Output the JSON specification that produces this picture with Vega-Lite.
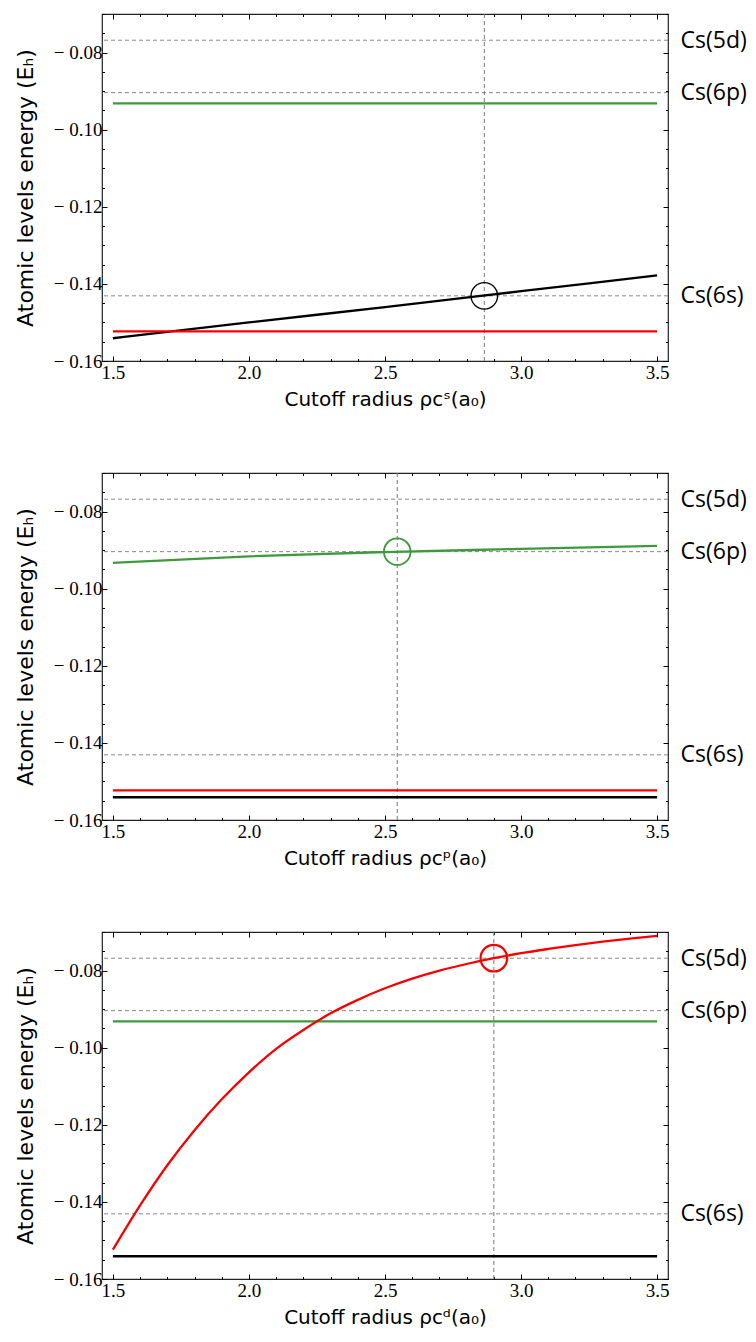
{
  "$schema": "https://vega.github.io/schema/vega-lite/v6.json",
  "padding": {"left": 13, "top": 12, "right": 0, "bottom": 0},
  "spacing": 61,
  "background": "white",
  "config": {
    "view": {"stroke": "#222", "strokeWidth": 1.2},
    "axis": {"grid": false, "domain": false, "labelColor": "#000", "tickColor": "#000", "titleColor": "#000", "tickWidth": 1, "titleFontWeight": "normal"},
    "line": {"strokeWidth": 2.3, "interpolate": "monotone"}
  },
  "datasets": {
    "levels": [
      {"E": -0.0768, "level": "Cs(5d)"},
      {"E": -0.0904, "level": "Cs(6p)"},
      {"E": -0.1431, "level": "Cs(6s)"}
    ],
    "cut1": [{"r": 2.865, "E": -0.1431, "orbital": "s"}],
    "cut2": [{"r": 2.545, "E": -0.0904, "orbital": "p"}],
    "cut3": [{"r": 2.9, "E": -0.0768, "orbital": "d"}],
    "lines1": [
      {"r": 1.5, "E": -0.1541, "orbital": "s"},
      {"r": 2.0, "E": -0.1500, "orbital": "s"},
      {"r": 2.5, "E": -0.1460, "orbital": "s"},
      {"r": 3.0, "E": -0.1419, "orbital": "s"},
      {"r": 3.5, "E": -0.1378, "orbital": "s"},
      {"r": 1.5, "E": -0.0932, "orbital": "p"},
      {"r": 3.5, "E": -0.0932, "orbital": "p"},
      {"r": 1.5, "E": -0.1523, "orbital": "d"},
      {"r": 3.5, "E": -0.1523, "orbital": "d"}
    ],
    "lines2": [
      {"r": 1.5, "E": -0.1541, "orbital": "s"},
      {"r": 3.5, "E": -0.1541, "orbital": "s"},
      {"r": 1.5, "E": -0.0933, "orbital": "p"},
      {"r": 2.0, "E": -0.0916, "orbital": "p"},
      {"r": 2.5, "E": -0.0905, "orbital": "p"},
      {"r": 3.0, "E": -0.0897, "orbital": "p"},
      {"r": 3.5, "E": -0.0889, "orbital": "p"},
      {"r": 1.5, "E": -0.1523, "orbital": "d"},
      {"r": 3.5, "E": -0.1523, "orbital": "d"}
    ],
    "lines3": [
      {"r": 1.5, "E": -0.1541, "orbital": "s"},
      {"r": 3.5, "E": -0.1541, "orbital": "s"},
      {"r": 1.5, "E": -0.0932, "orbital": "p"},
      {"r": 3.5, "E": -0.0932, "orbital": "p"},
      {"r": 1.5, "E": -0.1524, "orbital": "d"},
      {"r": 1.6, "E": -0.1409, "orbital": "d"},
      {"r": 1.7, "E": -0.1305, "orbital": "d"},
      {"r": 1.8, "E": -0.1214, "orbital": "d"},
      {"r": 1.9, "E": -0.1134, "orbital": "d"},
      {"r": 2.0, "E": -0.1064, "orbital": "d"},
      {"r": 2.1, "E": -0.1003, "orbital": "d"},
      {"r": 2.2, "E": -0.0954, "orbital": "d"},
      {"r": 2.3, "E": -0.0911, "orbital": "d"},
      {"r": 2.4, "E": -0.0876, "orbital": "d"},
      {"r": 2.5, "E": -0.0846, "orbital": "d"},
      {"r": 2.6, "E": -0.0821, "orbital": "d"},
      {"r": 2.7, "E": -0.0800, "orbital": "d"},
      {"r": 2.8, "E": -0.0783, "orbital": "d"},
      {"r": 2.9, "E": -0.0768, "orbital": "d"},
      {"r": 3.0, "E": -0.0755, "orbital": "d"},
      {"r": 3.1, "E": -0.0744, "orbital": "d"},
      {"r": 3.2, "E": -0.0734, "orbital": "d"},
      {"r": 3.3, "E": -0.0725, "orbital": "d"},
      {"r": 3.4, "E": -0.0717, "orbital": "d"},
      {"r": 3.5, "E": -0.0710, "orbital": "d"}
    ]
  },
  "vconcat": [
    {
      "width": 566, "height": 347,
      "resolve": {"axis": {"x": "independent", "y": "independent"}},
      "layer": [
        {"data": {"name": "levels"}, "mark": {"type": "rule", "stroke": "#888", "strokeDash": [4, 3], "strokeWidth": 1},
         "encoding": {"y": {"field": "E", "type": "quantitative", "scale": {"domain": [-0.16, -0.07], "nice": false, "zero": false},
           "axis": {"orient": "left", "values": [-0.16, -0.14, -0.12, -0.1, -0.08], "tickSize": -5,
             "labelExpr": "'− ' + format(-datum.value, '.2f')",
             "labelPadding": 5, "labelFont": "Liberation Serif", "labelFontSize": 19,
             "title": "Atomic levels energy (Eₕ)", "titleFont": "DejaVu Sans", "titleFontSize": 22, "titlePadding": 16}}}},
        {"data": {"name": "cut1"}, "mark": {"type": "rule", "stroke": "#777", "strokeDash": [4, 3], "strokeWidth": 1},
         "encoding": {"x": {"field": "r", "type": "quantitative", "scale": {"domain": [1.46, 3.54], "nice": false, "zero": false},
           "axis": {"orient": "bottom", "values": [1.5, 2.0, 2.5, 3.0, 3.5], "format": ".1f", "tickSize": -5,
             "labelPadding": 7, "labelFont": "Liberation Serif", "labelFontSize": 19,
             "title": "Cutoff radius ρcˢ(a₀)", "titleFont": "DejaVu Sans", "titleFontSize": 20, "titlePadding": 7}}}},
        {"data": {"name": "lines1"}, "transform": [{"filter": "datum.orbital == 's'"}], "mark": {"type": "line", "color": "#000000"},
         "encoding": {
           "x": {"field": "r", "type": "quantitative", "scale": {"domain": [1.46, 3.54], "nice": false, "zero": false},
             "axis": {"orient": "top", "values": [1.5, 2.0, 2.5, 3.0, 3.5], "labels": false, "title": null, "tickSize": -5}},
           "y": {"field": "E", "type": "quantitative", "scale": {"domain": [-0.16, -0.07], "nice": false, "zero": false},
             "axis": {"orient": "right", "values": [-0.16, -0.14, -0.12, -0.1, -0.08], "labels": false, "title": null, "tickSize": -5}}}},
        {"data": {"name": "lines1"}, "transform": [{"filter": "datum.orbital == 'p'"}], "mark": {"type": "line", "color": "#3d9a3d"},
         "encoding": {
           "x": {"field": "r", "type": "quantitative", "scale": {"domain": [1.46, 3.54], "nice": false, "zero": false},
             "axis": {"orient": "top", "values": [1.5, 1.6, 1.7, 1.8, 1.9, 2.0, 2.1, 2.2, 2.3, 2.4, 2.5, 2.6, 2.7, 2.8, 2.9, 3.0, 3.1, 3.2, 3.3, 3.4, 3.5], "labels": false, "title": null, "tickSize": -2.5}},
           "y": {"field": "E", "type": "quantitative", "scale": {"domain": [-0.16, -0.07], "nice": false, "zero": false},
             "axis": {"orient": "right", "values": [-0.16, -0.155, -0.15, -0.145, -0.14, -0.135, -0.13, -0.125, -0.12, -0.115, -0.11, -0.105, -0.1, -0.095, -0.09, -0.085, -0.08, -0.075, -0.07], "labels": false, "title": null, "tickSize": -2.5}}}},
        {"data": {"name": "lines1"}, "transform": [{"filter": "datum.orbital == 'd'"}], "mark": {"type": "line", "color": "#f80000"},
         "encoding": {
           "x": {"field": "r", "type": "quantitative", "scale": {"domain": [1.46, 3.54], "nice": false, "zero": false},
             "axis": {"orient": "bottom", "values": [1.5, 1.6, 1.7, 1.8, 1.9, 2.0, 2.1, 2.2, 2.3, 2.4, 2.5, 2.6, 2.7, 2.8, 2.9, 3.0, 3.1, 3.2, 3.3, 3.4, 3.5], "labels": false, "title": null, "tickSize": -2.5}},
           "y": {"field": "E", "type": "quantitative", "scale": {"domain": [-0.16, -0.07], "nice": false, "zero": false},
             "axis": {"orient": "left", "values": [-0.16, -0.155, -0.15, -0.145, -0.14, -0.135, -0.13, -0.125, -0.12, -0.115, -0.11, -0.105, -0.1, -0.095, -0.09, -0.085, -0.08, -0.075, -0.07], "labels": false, "title": null, "tickSize": -2.5}}}},
        {"data": {"name": "cut1"}, "mark": {"type": "point", "shape": "circle", "filled": false, "size": 707, "strokeWidth": 1.3, "opacity": 1, "color": "#000000"},
         "encoding": {
           "x": {"field": "r", "type": "quantitative", "scale": {"domain": [1.46, 3.54], "nice": false, "zero": false}, "axis": null},
           "y": {"field": "E", "type": "quantitative", "scale": {"domain": [-0.16, -0.07], "nice": false, "zero": false},
             "axis": {"orient": "right", "values": [-0.0768, -0.0904, -0.1431], "ticks": false, "title": null,
               "labelExpr": "datum.value > -0.08 ? 'Cs(5d)' : datum.value > -0.1 ? 'Cs(6p)' : 'Cs(6s)'",
               "labelFont": "Open Sans", "labelFontSize": 23, "labelPadding": 12}}}}
      ]
    },
    {
      "width": 566, "height": 347,
      "resolve": {"axis": {"x": "independent", "y": "independent"}},
      "layer": [
        {"data": {"name": "levels"}, "mark": {"type": "rule", "stroke": "#888", "strokeDash": [4, 3], "strokeWidth": 1},
         "encoding": {"y": {"field": "E", "type": "quantitative", "scale": {"domain": [-0.16, -0.07], "nice": false, "zero": false},
           "axis": {"orient": "left", "values": [-0.16, -0.14, -0.12, -0.1, -0.08], "tickSize": -5,
             "labelExpr": "'− ' + format(-datum.value, '.2f')",
             "labelPadding": 5, "labelFont": "Liberation Serif", "labelFontSize": 19,
             "title": "Atomic levels energy (Eₕ)", "titleFont": "DejaVu Sans", "titleFontSize": 22, "titlePadding": 16}}}},
        {"data": {"name": "cut2"}, "mark": {"type": "rule", "stroke": "#777", "strokeDash": [4, 3], "strokeWidth": 1},
         "encoding": {"x": {"field": "r", "type": "quantitative", "scale": {"domain": [1.46, 3.54], "nice": false, "zero": false},
           "axis": {"orient": "bottom", "values": [1.5, 2.0, 2.5, 3.0, 3.5], "format": ".1f", "tickSize": -5,
             "labelPadding": 7, "labelFont": "Liberation Serif", "labelFontSize": 19,
             "title": "Cutoff radius ρcᵖ(a₀)", "titleFont": "DejaVu Sans", "titleFontSize": 20, "titlePadding": 7}}}},
        {"data": {"name": "lines2"}, "transform": [{"filter": "datum.orbital == 's'"}], "mark": {"type": "line", "color": "#000000"},
         "encoding": {
           "x": {"field": "r", "type": "quantitative", "scale": {"domain": [1.46, 3.54], "nice": false, "zero": false},
             "axis": {"orient": "top", "values": [1.5, 2.0, 2.5, 3.0, 3.5], "labels": false, "title": null, "tickSize": -5}},
           "y": {"field": "E", "type": "quantitative", "scale": {"domain": [-0.16, -0.07], "nice": false, "zero": false},
             "axis": {"orient": "right", "values": [-0.16, -0.14, -0.12, -0.1, -0.08], "labels": false, "title": null, "tickSize": -5}}}},
        {"data": {"name": "lines2"}, "transform": [{"filter": "datum.orbital == 'p'"}], "mark": {"type": "line", "color": "#3d9a3d"},
         "encoding": {
           "x": {"field": "r", "type": "quantitative", "scale": {"domain": [1.46, 3.54], "nice": false, "zero": false},
             "axis": {"orient": "top", "values": [1.5, 1.6, 1.7, 1.8, 1.9, 2.0, 2.1, 2.2, 2.3, 2.4, 2.5, 2.6, 2.7, 2.8, 2.9, 3.0, 3.1, 3.2, 3.3, 3.4, 3.5], "labels": false, "title": null, "tickSize": -2.5}},
           "y": {"field": "E", "type": "quantitative", "scale": {"domain": [-0.16, -0.07], "nice": false, "zero": false},
             "axis": {"orient": "right", "values": [-0.16, -0.155, -0.15, -0.145, -0.14, -0.135, -0.13, -0.125, -0.12, -0.115, -0.11, -0.105, -0.1, -0.095, -0.09, -0.085, -0.08, -0.075, -0.07], "labels": false, "title": null, "tickSize": -2.5}}}},
        {"data": {"name": "lines2"}, "transform": [{"filter": "datum.orbital == 'd'"}], "mark": {"type": "line", "color": "#f80000"},
         "encoding": {
           "x": {"field": "r", "type": "quantitative", "scale": {"domain": [1.46, 3.54], "nice": false, "zero": false},
             "axis": {"orient": "bottom", "values": [1.5, 1.6, 1.7, 1.8, 1.9, 2.0, 2.1, 2.2, 2.3, 2.4, 2.5, 2.6, 2.7, 2.8, 2.9, 3.0, 3.1, 3.2, 3.3, 3.4, 3.5], "labels": false, "title": null, "tickSize": -2.5}},
           "y": {"field": "E", "type": "quantitative", "scale": {"domain": [-0.16, -0.07], "nice": false, "zero": false},
             "axis": {"orient": "left", "values": [-0.16, -0.155, -0.15, -0.145, -0.14, -0.135, -0.13, -0.125, -0.12, -0.115, -0.11, -0.105, -0.1, -0.095, -0.09, -0.085, -0.08, -0.075, -0.07], "labels": false, "title": null, "tickSize": -2.5}}}},
        {"data": {"name": "cut2"}, "mark": {"type": "point", "shape": "circle", "filled": false, "size": 707, "strokeWidth": 1.8, "opacity": 1, "color": "#3d9a3d"},
         "encoding": {
           "x": {"field": "r", "type": "quantitative", "scale": {"domain": [1.46, 3.54], "nice": false, "zero": false}, "axis": null},
           "y": {"field": "E", "type": "quantitative", "scale": {"domain": [-0.16, -0.07], "nice": false, "zero": false},
             "axis": {"orient": "right", "values": [-0.0768, -0.0904, -0.1431], "ticks": false, "title": null,
               "labelExpr": "datum.value > -0.08 ? 'Cs(5d)' : datum.value > -0.1 ? 'Cs(6p)' : 'Cs(6s)'",
               "labelFont": "Open Sans", "labelFontSize": 23, "labelPadding": 12}}}}
      ]
    },
    {
      "width": 566, "height": 347,
      "resolve": {"axis": {"x": "independent", "y": "independent"}},
      "layer": [
        {"data": {"name": "levels"}, "mark": {"type": "rule", "stroke": "#888", "strokeDash": [4, 3], "strokeWidth": 1},
         "encoding": {"y": {"field": "E", "type": "quantitative", "scale": {"domain": [-0.16, -0.07], "nice": false, "zero": false},
           "axis": {"orient": "left", "values": [-0.16, -0.14, -0.12, -0.1, -0.08], "tickSize": -5,
             "labelExpr": "'− ' + format(-datum.value, '.2f')",
             "labelPadding": 5, "labelFont": "Liberation Serif", "labelFontSize": 19,
             "title": "Atomic levels energy (Eₕ)", "titleFont": "DejaVu Sans", "titleFontSize": 22, "titlePadding": 16}}}},
        {"data": {"name": "cut3"}, "mark": {"type": "rule", "stroke": "#777", "strokeDash": [4, 3], "strokeWidth": 1},
         "encoding": {"x": {"field": "r", "type": "quantitative", "scale": {"domain": [1.46, 3.54], "nice": false, "zero": false},
           "axis": {"orient": "bottom", "values": [1.5, 2.0, 2.5, 3.0, 3.5], "format": ".1f", "tickSize": -5,
             "labelPadding": 7, "labelFont": "Liberation Serif", "labelFontSize": 19,
             "title": "Cutoff radius ρcᵈ(a₀)", "titleFont": "DejaVu Sans", "titleFontSize": 20, "titlePadding": 7}}}},
        {"data": {"name": "lines3"}, "transform": [{"filter": "datum.orbital == 's'"}], "mark": {"type": "line", "color": "#000000"},
         "encoding": {
           "x": {"field": "r", "type": "quantitative", "scale": {"domain": [1.46, 3.54], "nice": false, "zero": false},
             "axis": {"orient": "top", "values": [1.5, 2.0, 2.5, 3.0, 3.5], "labels": false, "title": null, "tickSize": -5}},
           "y": {"field": "E", "type": "quantitative", "scale": {"domain": [-0.16, -0.07], "nice": false, "zero": false},
             "axis": {"orient": "right", "values": [-0.16, -0.14, -0.12, -0.1, -0.08], "labels": false, "title": null, "tickSize": -5}}}},
        {"data": {"name": "lines3"}, "transform": [{"filter": "datum.orbital == 'p'"}], "mark": {"type": "line", "color": "#3d9a3d"},
         "encoding": {
           "x": {"field": "r", "type": "quantitative", "scale": {"domain": [1.46, 3.54], "nice": false, "zero": false},
             "axis": {"orient": "top", "values": [1.5, 1.6, 1.7, 1.8, 1.9, 2.0, 2.1, 2.2, 2.3, 2.4, 2.5, 2.6, 2.7, 2.8, 2.9, 3.0, 3.1, 3.2, 3.3, 3.4, 3.5], "labels": false, "title": null, "tickSize": -2.5}},
           "y": {"field": "E", "type": "quantitative", "scale": {"domain": [-0.16, -0.07], "nice": false, "zero": false},
             "axis": {"orient": "right", "values": [-0.16, -0.155, -0.15, -0.145, -0.14, -0.135, -0.13, -0.125, -0.12, -0.115, -0.11, -0.105, -0.1, -0.095, -0.09, -0.085, -0.08, -0.075, -0.07], "labels": false, "title": null, "tickSize": -2.5}}}},
        {"data": {"name": "lines3"}, "transform": [{"filter": "datum.orbital == 'd'"}], "mark": {"type": "line", "color": "#f80000"},
         "encoding": {
           "x": {"field": "r", "type": "quantitative", "scale": {"domain": [1.46, 3.54], "nice": false, "zero": false},
             "axis": {"orient": "bottom", "values": [1.5, 1.6, 1.7, 1.8, 1.9, 2.0, 2.1, 2.2, 2.3, 2.4, 2.5, 2.6, 2.7, 2.8, 2.9, 3.0, 3.1, 3.2, 3.3, 3.4, 3.5], "labels": false, "title": null, "tickSize": -2.5}},
           "y": {"field": "E", "type": "quantitative", "scale": {"domain": [-0.16, -0.07], "nice": false, "zero": false},
             "axis": {"orient": "left", "values": [-0.16, -0.155, -0.15, -0.145, -0.14, -0.135, -0.13, -0.125, -0.12, -0.115, -0.11, -0.105, -0.1, -0.095, -0.09, -0.085, -0.08, -0.075, -0.07], "labels": false, "title": null, "tickSize": -2.5}}}},
        {"data": {"name": "cut3"}, "mark": {"type": "point", "shape": "circle", "filled": false, "size": 707, "strokeWidth": 2.2, "opacity": 1, "color": "#f80000"},
         "encoding": {
           "x": {"field": "r", "type": "quantitative", "scale": {"domain": [1.46, 3.54], "nice": false, "zero": false}, "axis": null},
           "y": {"field": "E", "type": "quantitative", "scale": {"domain": [-0.16, -0.07], "nice": false, "zero": false},
             "axis": {"orient": "right", "values": [-0.0768, -0.0904, -0.1431], "ticks": false, "title": null,
               "labelExpr": "datum.value > -0.08 ? 'Cs(5d)' : datum.value > -0.1 ? 'Cs(6p)' : 'Cs(6s)'",
               "labelFont": "Open Sans", "labelFontSize": 23, "labelPadding": 12}}}}
      ]
    }
  ]
}
